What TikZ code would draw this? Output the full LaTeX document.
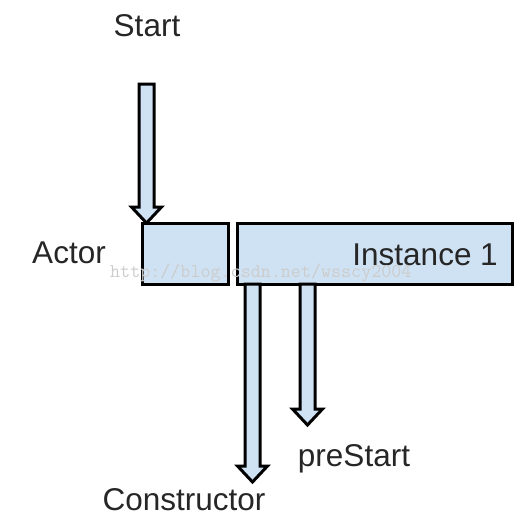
\documentclass[tikz,border=0pt]{standalone}
\usepackage{fontspec}
\setmainfont{Liberation Sans}
\usetikzlibrary{calc}
\definecolor{boxblue}{HTML}{CFE2F3}
\definecolor{wmgray}{HTML}{CCCCCC}
\tikzset{
  box/.style={draw=black, fill=boxblue, line width=3pt, outer sep=0pt, inner sep=0pt},
  blockarr/.style={draw=black, fill=boxblue, line width=3pt, line join=miter},
  lbl/.style={font=\fontsize{31.5}{36}\selectfont, text=black!85, inner sep=0pt},
  wmark/.style={font=\ttfamily\fontsize{19.5}{22}\selectfont, text=wmgray, inner sep=0pt}
}
\newcommand{\blockarrow}[2]{%
  \draw[blockarr] let \p1=#1, \p2=#2 in
    (\x1-7.5pt,\y1) -- (\x1-7.5pt,\y2+16pt) -- (\x1-15pt,\y2+16pt) -- (\x1,\y2)
    -- (\x1+15pt,\y2+16pt) -- (\x1+7.5pt,\y2+16pt) -- (\x1+7.5pt,\y1) -- cycle;}
\begin{document}
\begin{tikzpicture}[x=1pt, y=-1pt]
\useasboundingbox (0,0) rectangle (520,523);
% boxes
\node[box, minimum width=86, minimum height=61, anchor=north west] (actor) at (142,223) {};
\node[box, minimum width=275, minimum height=61, anchor=north west] (inst) at (237,223) {};
% labels
\node[lbl, anchor=base] (start) at (147,36) {Start};
\node[lbl, anchor=base] (actorlbl) at (69,263) {Actor};
\node[lbl, anchor=base east] (instlbl) at (498,265) {Instance 1};
\node[lbl, anchor=base] (prestart) at (354,466) {preStart};
\node[lbl, anchor=base] (constructor) at (184,510) {Constructor};
% arrow end points
\coordinate (sa) at (146.5,84);
\coordinate (ctip) at (252.5,482);
\coordinate (ptip) at (307.5,425);
% block arrows
\blockarrow{(sa)}{($(actor.north west)+(4.5,0)$)}
\blockarrow{($(inst.south west)+(15.5,0)$)}{(ctip)}
\blockarrow{($(inst.south west)+(70.5,0)$)}{(ptip)}
% watermark
\node[wmark, anchor=base west] (wm) at (110,277) {http://blog.csdn.net/wsscy2004};
\end{tikzpicture}
\end{document}
